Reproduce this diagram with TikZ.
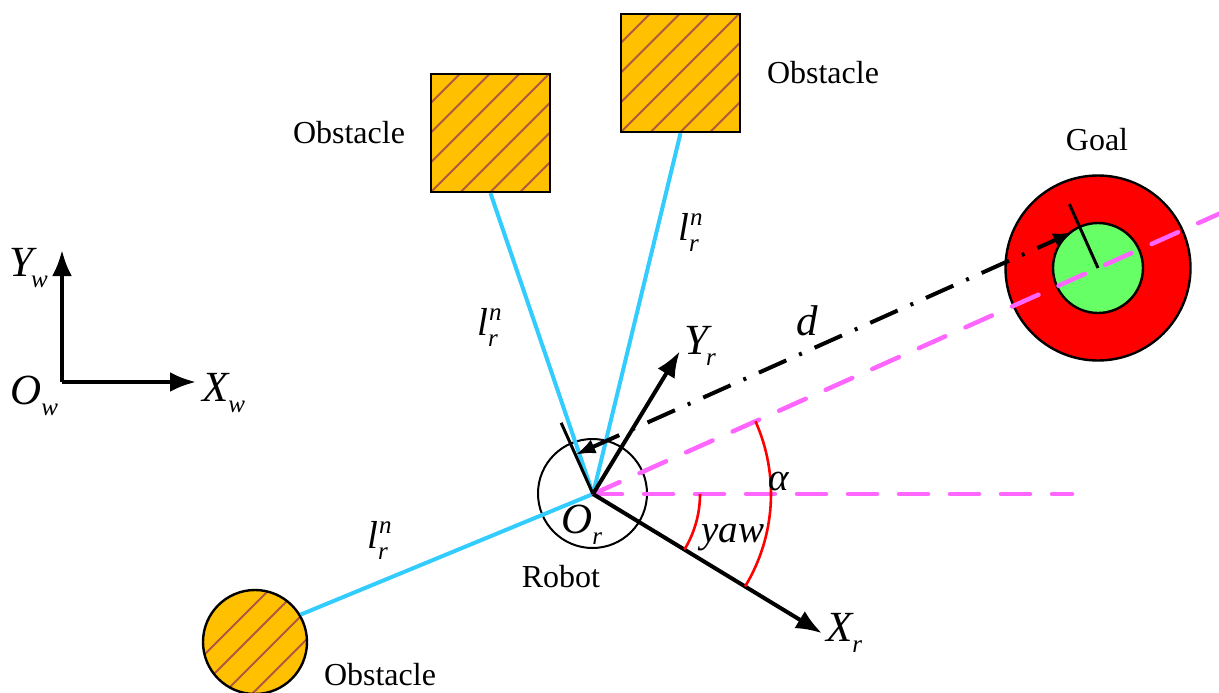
\documentclass[tikz,border=0pt]{standalone}
\usepackage{fontspec}
\setmainfont{Liberation Serif}
\usetikzlibrary{arrows.meta,calc}
\definecolor{obsfill}{RGB}{255,192,0}
\definecolor{hatchc}{RGB}{176,88,64}
\definecolor{rayblue}{RGB}{51,204,255}
\definecolor{pinkc}{RGB}{255,102,255}
\definecolor{goalred}{RGB}{255,0,0}
\definecolor{goalgreen}{RGB}{102,255,102}
\newcommand{\mainsz}{\fontsize{39}{40}\selectfont}
\newcommand{\capsz}{\fontsize{43}{44}\selectfont}
\newcommand{\subsz}{\fontsize{25}{26}\selectfont}
\newcommand{\vsub}[3][0pt]{{\capsz\itshape #2}\kern#1{\subsz\itshape\raisebox{-11pt}{#3}}}
\newcommand{\vlrn}{{\mainsz\itshape l}\makebox[0pt][l]{\subsz\itshape\raisebox{15pt}{\kern1pt n}}{\subsz\itshape\raisebox{-11pt}{r}}}
\begin{document}
\begin{tikzpicture}[x=1pt,y=-1pt,
  hatchline/.style={draw=hatchc, line width=2pt},
  obsq/.style={draw, line width=2.4pt, fill=obsfill, minimum width=119pt, minimum height=118pt, inner sep=0pt,
    path picture={\foreach \k in {-3,...,3}{\draw[hatchline] ($(path picture bounding box.south west)+(\k*29.75pt,0pt)$) -- ++(140pt,140pt);}}},
  obsc/.style={circle, draw, line width=2.4pt, fill=obsfill, minimum size=104pt, inner sep=0pt,
    path picture={\foreach \s in {-38,-9,20,49}{\draw[hatchline] ($(path picture bounding box.center)+(\s/2*1pt,-\s/2*1pt)+(-70pt,-70pt)$) -- ++(140pt,140pt);}}},
  ray/.style={draw=rayblue, line width=4pt},
  pinkdash/.style={draw=pinkc, line width=4.5pt, line cap=round, dash pattern=on 29pt off 22pt},
  axis/.style={draw=black, line width=4pt, -{Latex[length=26pt,width=20pt]}},
  dline/.style={draw=black, line width=4pt, dash pattern=on 30pt off 14pt on 3pt off 14pt},
  tickln/.style={draw=black, line width=3pt},
  redarc/.style={draw=red, line width=2.6pt},
  lbl/.style={inner sep=0pt, font=\fontsize{32}{38}\selectfont},
  mlbl/.style={inner sep=0pt, anchor=base west}
]
\useasboundingbox (0,0) rectangle (1219,693);
% obstacles
\node[obsq] (obsL) at (490.5,133) {};
\node[obsq] (obsR) at (680.5,73) {};
\node[obsc] (obsB) at (255,642) {};
% goal
\coordinate (G) at (1098,268);
\node[circle, draw, line width=2.4pt, fill=goalred, minimum size=185pt, inner sep=0pt] (goalO) at (G) {};
\node[circle, draw, line width=2.4pt, fill=goalgreen, minimum size=90pt, inner sep=0pt] (goalI) at (G) {};
% robot
\coordinate (O) at (593,494);
\node[circle, draw, line width=2pt, minimum size=109pt, inner sep=0pt] (robot) at (592.5,493.5) {};
% rays
\draw[ray] (O) -- (obsL.south);
\draw[ray] (O) -- (obsR.south);
\draw[ray] (O) -- (obsB.31);
% pink reference lines
\coordinate (hEnd) at (1072,494);
\coordinate (lEnd) at ($(O)!1.24!(G)$);
\draw[pinkdash] (O) -- (hEnd);
\draw[pinkdash] (O) -- (lEnd);
% robot axes
\coordinate (XrTip) at ($(O)+(-31.3:268pt)$);
\coordinate (YrTip) at ($(O)+(58.7:167pt)$);
\draw[axis] (O) -- (XrTip);
\draw[axis] (O) -- (YrTip);
% world axes
\coordinate (Ow) at (62,382);
\coordinate (XwTip) at (196,382);
\coordinate (YwTip) at (62,250);
\draw[axis] (Ow) -- (XwTip);
\draw[axis] (Ow) -- (YwTip);
% distance d
\coordinate (tR) at ($(O)+(114.1:78pt)$);
\coordinate (tG) at ($(G)+(114.1:70pt)$);
\draw[tickln] (O) -- (tR);
\draw[tickln] (G) -- (tG);
\coordinate (dA) at ($(O)+(114.1:43pt)$);
\coordinate (dB) at ($(G)+(114.1:43pt)$);
\draw[dline, {Latex[length=20pt,width=15pt]}-{Latex[length=20pt,width=15pt]}, shorten >=8pt] (dA) -- (dB);
% angle arcs
\draw[redarc] ($(O)+(0:107pt)$) arc[start angle=0, end angle=-31.3, radius=107pt];
\draw[redarc] ($(O)+(24.1:178pt)$) arc[start angle=24.1, end angle=-31.3, radius=178pt];
% text labels
\node[lbl] (tObsL) at (349,133) {Obstacle};
\node[lbl] (tObsR) at (823,73) {Obstacle};
\node[lbl] (tObsB) at (380,675) {Obstacle};
\node[lbl] (tGoal) at (1097,140) {Goal};
\node[lbl] (tRobot) at (561,577) {Robot};
% math labels
\node[mlbl] (lYw) at (9,276) {\vsub[-2pt]{Y}{w}};
\node[mlbl] (lOw) at (10,404) {\vsub{O}{w}};
\node[mlbl] (lXw) at (202,401) {\vsub{X}{w}};
\node[mlbl] (lYr) at (684,354) {\vsub[-2pt]{Y}{r}};
\node[mlbl] (lXr) at (826,641) {\vsub{X}{r}};
\node[mlbl] (lOr) at (561,533) {\vsub{O}{r}};
\node[mlbl] (ld) at (796,335) {\capsz\itshape d};
\node[mlbl] (lL1) at (477,335) {\vlrn};
\node[mlbl] (lL2) at (678,240) {\vlrn};
\node[mlbl] (lL3) at (367,548) {\vlrn};
\node[mlbl] (lyaw) at (701,542) {\mainsz\itshape yaw};
\node[mlbl] (lalpha) at (768,490) {\mainsz\itshape α};
\end{tikzpicture}
\end{document}
